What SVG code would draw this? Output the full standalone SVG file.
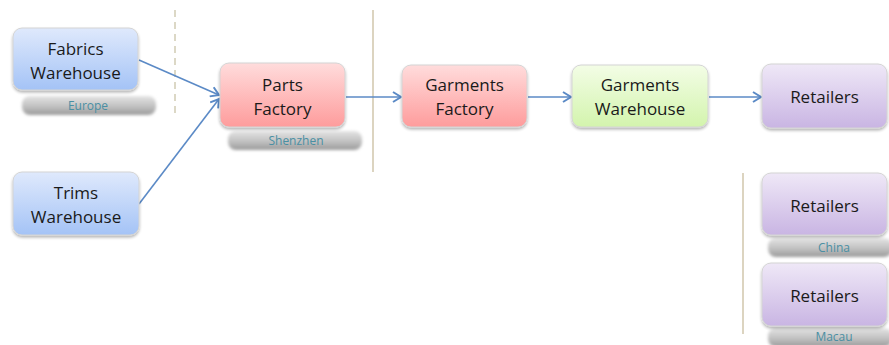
<svg xmlns="http://www.w3.org/2000/svg" width="889" height="345" viewBox="0 0 889 345">
  <defs>
    <style>
      .node rect.box { stroke: #d4d4d4; stroke-width: 1; filter: url(#drop); }
      .label { font-family: "Open Sans", "Liberation Sans", sans-serif; font-size: 17px; fill: #1a1a1a; text-anchor: middle; }
      .place { font-family: "Open Sans", "Liberation Sans", sans-serif; font-size: 12px; fill: #4a8fa3; text-anchor: middle; }
      .edge { stroke: #5b8ac6; stroke-width: 1.6; fill: none; marker-end: url(#chev); }
      .plate { fill: url(#plateGrad); filter: url(#soft); }
    </style>
    <linearGradient id="gBlue" x1="0" y1="0" x2="0" y2="1">
      <stop offset="0" stop-color="#dfe9fc"/>
      <stop offset="1" stop-color="#a4c3f6"/>
    </linearGradient>
    <linearGradient id="gPink" x1="0" y1="0" x2="0" y2="1">
      <stop offset="0" stop-color="#ffdcdc"/>
      <stop offset="1" stop-color="#fe9c9c"/>
    </linearGradient>
    <linearGradient id="gGreen" x1="0" y1="0" x2="0" y2="1">
      <stop offset="0" stop-color="#f3fde6"/>
      <stop offset="1" stop-color="#d3f4ad"/>
    </linearGradient>
    <linearGradient id="gPurple" x1="0" y1="0" x2="0" y2="1">
      <stop offset="0" stop-color="#efe8f7"/>
      <stop offset="1" stop-color="#c9b5e3"/>
    </linearGradient>
    <linearGradient id="plateGrad" x1="0" y1="0" x2="0" y2="1">
      <stop offset="0" stop-color="#e4e4e4"/>
      <stop offset="0.6" stop-color="#bdbdbd"/>
      <stop offset="1" stop-color="#999999"/>
    </linearGradient>
    <filter id="drop" x="-10%" y="-10%" width="120%" height="130%">
      <feGaussianBlur in="SourceAlpha" stdDeviation="1.5"/>
      <feOffset dx="0" dy="2" result="b"/>
      <feComponentTransfer><feFuncA type="linear" slope="0.3"/></feComponentTransfer>
      <feMerge><feMergeNode/><feMergeNode in="SourceGraphic"/></feMerge>
    </filter>
    <filter id="soft" x="-10%" y="-50%" width="120%" height="200%">
      <feGaussianBlur stdDeviation="1.8"/>
    </filter>
    <marker id="chev" viewBox="0 0 12 12" refX="10" refY="6" markerWidth="12" markerHeight="12" markerUnits="userSpaceOnUse" orient="auto">
      <path d="M2,1 L10,6 L2,11" fill="none" stroke="#5b8ac6" stroke-width="2" stroke-linejoin="miter"/>
    </marker>
  </defs>

  <!-- region dividers -->
  <g id="dividers">
    <line x1="175" y1="10" x2="175" y2="118" stroke="#dcd8c6" stroke-width="2" stroke-dasharray="7,5"/>
    <line x1="373" y1="10" x2="373" y2="172" stroke="#dcd4c0" stroke-width="2"/>
    <line x1="743" y1="173" x2="743" y2="334" stroke="#dcd4c0" stroke-width="2"/>
  </g>

  <!-- location plates under nodes -->
  <g id="plates">
    <rect class="plate" x="22" y="96" width="134" height="19" rx="8"/>
    <rect class="plate" x="228" y="131" width="134" height="19" rx="8"/>
    <rect class="plate" x="768" y="238" width="124" height="19" rx="8"/>
    <rect class="plate" x="768" y="328" width="124" height="19" rx="8"/>
  </g>

  <g id="connectors">
    <line class="edge" x1="139" y1="60" x2="219" y2="95"/>
    <line class="edge" x1="139" y1="204" x2="219" y2="99"/>
    <line class="edge" x1="346" y1="97" x2="401" y2="97"/>
    <line class="edge" x1="528" y1="97" x2="571" y2="97"/>
    <line class="edge" x1="709" y1="97" x2="761" y2="97"/>
  </g>

  <g id="fabrics-warehouse" class="node">
    <rect class="box" x="13" y="28" width="125" height="62" rx="9" fill="url(#gBlue)"/>
    <text class="label" x="75.5" y="55">Fabrics</text>
    <text class="label" x="75.5" y="79">Warehouse</text>
    <text class="place" x="88" y="110">Europe</text>
  </g>

  <g id="trims-warehouse" class="node">
    <rect class="box" x="13" y="172" width="126" height="63" rx="9" fill="url(#gBlue)"/>
    <text class="label" x="76" y="199">Trims</text>
    <text class="label" x="76" y="223">Warehouse</text>
  </g>

  <g id="parts-factory" class="node">
    <rect class="box" x="220" y="63" width="125" height="64" rx="9" fill="url(#gPink)"/>
    <text class="label" x="282.5" y="91">Parts</text>
    <text class="label" x="282.5" y="115">Factory</text>
    <text class="place" x="296" y="145">Shenzhen</text>
  </g>

  <g id="garments-factory" class="node">
    <rect class="box" x="402" y="65" width="125" height="62" rx="9" fill="url(#gPink)"/>
    <text class="label" x="464.5" y="91">Garments</text>
    <text class="label" x="464.5" y="115">Factory</text>
  </g>

  <g id="garments-warehouse" class="node">
    <rect class="box" x="572" y="65" width="136" height="62" rx="9" fill="url(#gGreen)"/>
    <text class="label" x="640" y="91">Garments</text>
    <text class="label" x="640" y="115">Warehouse</text>
  </g>

  <g id="retailers" class="node">
    <rect class="box" x="762" y="64" width="125" height="64" rx="9" fill="url(#gPurple)"/>
    <text class="label" x="824.5" y="103">Retailers</text>
  </g>

  <g id="retailers-china" class="node">
    <rect class="box" x="762" y="173" width="125" height="62" rx="9" fill="url(#gPurple)"/>
    <text class="label" x="824.5" y="212">Retailers</text>
    <text class="place" x="834" y="252">China</text>
  </g>

  <g id="retailers-macau" class="node">
    <rect class="box" x="762" y="263" width="125" height="63" rx="9" fill="url(#gPurple)"/>
    <text class="label" x="824.5" y="302">Retailers</text>
    <text class="place" x="834" y="341">Macau</text>
  </g>
</svg>
